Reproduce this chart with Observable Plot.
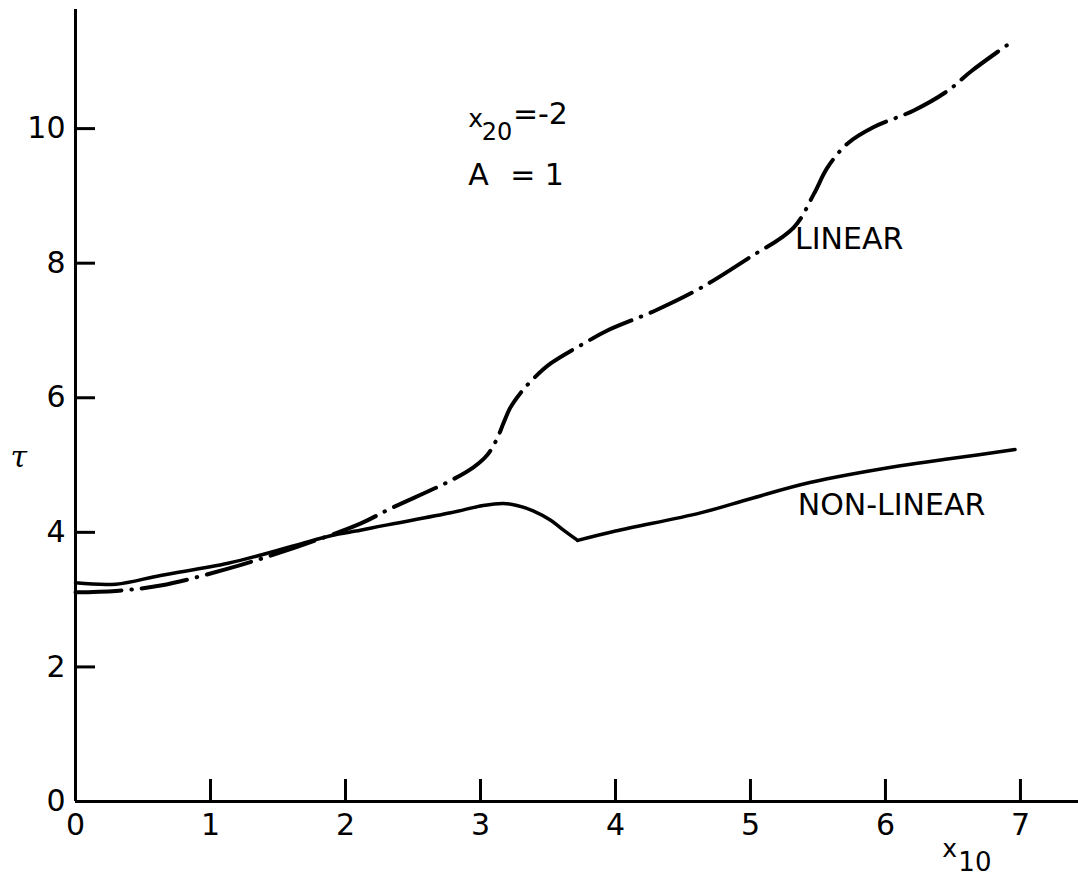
<!DOCTYPE html>
<html>
<head>
<meta charset="utf-8">
<script src="https://cdn.jsdelivr.net/npm/d3@7"></script>
<script src="https://cdn.jsdelivr.net/npm/@observablehq/plot@0.6"></script>
<style>
  body { margin: 0; background: #fff; }
  #chart svg { display: block; }
</style>
</head>
<body>
<div id="chart"></div>
<script>
// ---- data ----
const linearX = [0, 0.3, 0.63, 1.13, 1.62, 2.11, 2.33, 2.78, 2.95, 3.05, 3.12, 3.17, 3.22, 3.3, 3.4, 3.52, 3.76, 3.94, 4.3, 4.63, 4.99, 5.32, 5.47, 5.57, 5.72, 5.91, 6.21, 6.46, 6.64, 6.95];
const linearY = [3.11, 3.13, 3.21, 3.46, 3.77, 4.13, 4.35, 4.77, 4.97, 5.15, 5.38, 5.62, 5.85, 6.08, 6.3, 6.51, 6.8, 7.0, 7.3, 7.63, 8.08, 8.53, 9.03, 9.42, 9.78, 10.02, 10.27, 10.56, 10.86, 11.31];

// non-linear branch before the kink
const nonlinAX = [0, 0.3, 0.63, 1.13, 1.62, 1.89, 2.11, 2.28, 2.78, 3.02, 3.17, 3.27, 3.39, 3.52, 3.61, 3.72];
const nonlinAY = [3.25, 3.23, 3.36, 3.54, 3.80, 3.95, 4.03, 4.10, 4.29, 4.40, 4.43, 4.40, 4.32, 4.18, 4.04, 3.88];
// non-linear branch after the kink
const nonlinBX = [3.72, 4.0, 4.63, 5.0, 5.44, 6.11, 6.5, 6.96];
const nonlinBY = [3.88, 4.02, 4.29, 4.5, 4.74, 4.99, 5.1, 5.23];

const xTicks = [0, 1, 2, 3, 4, 5, 6, 7];
const yTicks = [0, 2, 4, 6, 8, 10];

const curveLabels = ["LINEAR", "NON-LINEAR"];
const curveLabelX = [5.33, 5.35];
const curveLabelY = [8.36, 4.40];

// ---- build tables ----
const linear = linearX.map((x, i) => ({x, y: linearY[i]}));
const nonlin = [
  ...nonlinAX.map((x, i) => ({x, y: nonlinAY[i], seg: "a"})),
  ...nonlinBX.map((x, i) => ({x, y: nonlinBY[i], seg: "b"}))
];
const labels = curveLabels.map((t, i) => ({t, x: curveLabelX[i], y: curveLabelY[i]}));

const font = "DejaVu Sans";

const chart = Plot.plot({
  width: 1078,
  height: 877,
  marginLeft: 75,
  marginRight: 0,
  marginTop: 9,
  marginBottom: 76,
  style: {fontFamily: font, background: "#fff", color: "#000"},
  x: {domain: [0, 7.43], axis: null},
  y: {domain: [0, 11.77], axis: null},
  marks: [
    // axis lines
    Plot.ruleX([0], {y1: 0, y2: 11.77, stroke: "#000", strokeWidth: 3}),
    Plot.ruleY([0], {x1: 0, x2: 7.43, stroke: "#000", strokeWidth: 3}),
    // inward tick marks
    Plot.tickX(xTicks.slice(1), {x: d => d, insetTop: 770, stroke: "#000", strokeWidth: 3}),
    Plot.tickY(yTicks.slice(1), {y: d => d, insetRight: 983, stroke: "#000", strokeWidth: 3}),
    // tick labels
    Plot.axisX(xTicks, {tickSize: 0, tickPadding: 12, tickFormat: d => String(d), fontSize: 30, fontFamily: font, fill: "#000", label: null}),
    Plot.axisY(yTicks, {tickSize: 0, tickPadding: 10, tickFormat: d => String(d), fontSize: 30, fontFamily: font, fill: "#000", label: null}),
    // curves
    Plot.line(nonlin, {x: "x", y: "y", z: "seg", curve: "catmull-rom", stroke: "#000", strokeWidth: 3.5}),
    Plot.line(linear, {x: "x", y: "y", curve: "catmull-rom", stroke: "#000", strokeWidth: 4,
      strokeLinecap: "round", strokeDasharray: "46,10,0.5,10"}),
    // curve labels
    Plot.text(labels, {x: "x", y: "y", text: "t", textAnchor: "start", fontSize: 30, fontFamily: font, fill: "#000"}),
    // axis titles
    Plot.text(["τ"], {x: -0.42, y: 5.11, text: d => d, fontSize: 30, fontStyle: "italic", fontFamily: "DejaVu Serif", fill: "#000"}),
    Plot.text(["x"], {x: 6.42, y: -0.70, text: d => d, textAnchor: "start", fontSize: 25, fontFamily: font, fill: "#000"}),
    Plot.text(["10"], {x: 6.54, y: -0.91, text: d => d, textAnchor: "start", fontSize: 26, fontFamily: font, fill: "#000"}),
    // parameter annotation
    Plot.text(["x"], {x: 2.91, y: 10.14, text: d => d, textAnchor: "start", fontSize: 25, fontFamily: font, fill: "#000"}),
    Plot.text(["20"], {x: 3.01, y: 9.95, text: d => d, textAnchor: "start", fontSize: 24, fontFamily: font, fill: "#000"}),
    Plot.text(["=-2"], {x: 3.24, y: 10.21, text: d => d, textAnchor: "start", fontSize: 30, fontFamily: font, fill: "#000"}),
    Plot.text(["A"], {x: 2.91, y: 9.30, text: d => d, textAnchor: "start", fontSize: 30, fontFamily: font, fill: "#000"}),
    Plot.text(["= 1"], {x: 3.22, y: 9.30, text: d => d, textAnchor: "start", fontSize: 30, fontFamily: font, fill: "#000"})
  ]
});

document.getElementById("chart").appendChild(chart);
</script>
</body>
</html>
